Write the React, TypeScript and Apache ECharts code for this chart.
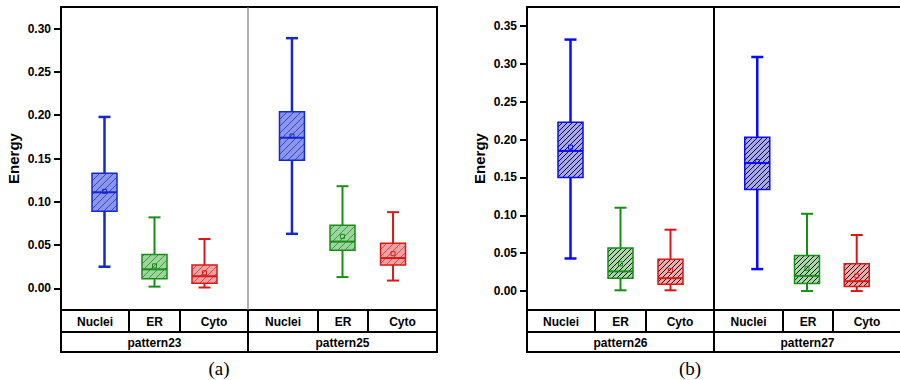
import React, { useEffect, useRef } from "react";
import * as echarts from "echarts";

// ---- data ----
const categories = ["Nuclei", "ER", "Cyto"];
const patternNamesA = ["pattern23", "pattern25"];
const patternNamesB = ["pattern26", "pattern27"];
const panelLabels = ["(a)", "(b)"];

// each row: [low, q1, median, q3, high]
const pattern23 = [
  [0.025, 0.089, 0.111, 0.133, 0.198],
  [0.002, 0.011, 0.022, 0.039, 0.082],
  [0.001, 0.006, 0.014, 0.027, 0.057],
];
const pattern23Mean = [0.112, 0.026, 0.018];
const pattern25 = [
  [0.063, 0.148, 0.174, 0.204, 0.289],
  [0.013, 0.044, 0.054, 0.073, 0.118],
  [0.009, 0.027, 0.035, 0.052, 0.088],
];
const pattern25Mean = [0.176, 0.06, 0.04];
const pattern26 = [
  [0.043, 0.150, 0.185, 0.223, 0.332],
  [0.001, 0.017, 0.026, 0.057, 0.110],
  [0.001, 0.009, 0.017, 0.042, 0.081],
];
const pattern26Mean = [0.19, 0.036, 0.027];
const pattern27 = [
  [0.029, 0.134, 0.169, 0.203, 0.309],
  [0.0, 0.010, 0.020, 0.047, 0.102],
  [0.0, 0.006, 0.013, 0.036, 0.074],
];
const pattern27Mean = [0.171, 0.03, 0.02];

const ticksA = [0, 0.05, 0.1, 0.15, 0.2, 0.25, 0.3];
const ticksB = [0, 0.05, 0.1, 0.15, 0.2, 0.25, 0.3, 0.35];

const lineColorsA = ["#1428cc", "#1a8c1a", "#d81818"];
const fillColorsA = ["#8c96ea", "#9ed49e", "#f0a2a2"];
const hatchColorsA = ["#3446d4", "#3c9c3c", "#dc4a4a"];
const lineColorsB = ["#0a0aff", "#139013", "#dd1515"];
const fillColorsB = ["#a6a6f4", "#a8d8a8", "#f0aaaa"];

const FONT = "'Liberation Sans', Arial, sans-serif";

function buildRows(stats: number[][], means: number[]) {
  return stats.map((s, i) => [i + 1, s[0], s[1], s[2], s[3], s[4], means[i], i]);
}

function makeRender(lineColors: string[], fillColors: string[], hatchColors: string[] | null, spacing: number) {
  return (params: any, api: any) => {
    const x = api.value(0);
    const idx = api.value(7);
    const pLow = api.coord([x, api.value(1)]);
    const pQ1 = api.coord([x, api.value(2)]);
    const pMed = api.coord([x, api.value(3)]);
    const pQ3 = api.coord([x, api.value(4)]);
    const pHigh = api.coord([x, api.value(5)]);
    const pMean = api.coord([x, api.value(6)]);
    const cx = pMed[0];
    const half = 12.5;
    const cap = 6;
    const lc = lineColors[idx];
    const wl = idx === 0 ? 2.5 : 2;
    const x0 = cx - half;
    const x1 = cx + half;
    const y0 = pQ3[1];
    const y1 = pQ1[1];
    const children: any[] = [];
    // whiskers
    children.push({ type: "line", shape: { x1: cx, y1: pHigh[1], x2: cx, y2: y0 }, style: { stroke: lc, lineWidth: wl } });
    children.push({ type: "line", shape: { x1: cx, y1: y1, x2: cx, y2: pLow[1] }, style: { stroke: lc, lineWidth: wl } });
    children.push({ type: "line", shape: { x1: cx - cap, y1: pHigh[1], x2: cx + cap, y2: pHigh[1] }, style: { stroke: lc, lineWidth: wl } });
    children.push({ type: "line", shape: { x1: cx - cap, y1: pLow[1], x2: cx + cap, y2: pLow[1] }, style: { stroke: lc, lineWidth: wl } });
    // box fill
    children.push({ type: "rect", shape: { x: x0, y: y0, width: x1 - x0, height: y1 - y0 }, style: { fill: fillColors[idx], stroke: "none" } });
    // hatch lines "/" : x + y = c
    const hc = hatchColors ? hatchColors[idx] : "#111111";
    const cStart = Math.ceil((x0 + y0) / spacing) * spacing;
    for (let c = cStart; c <= x1 + y1; c += spacing) {
      const xa = Math.max(x0, c - y1);
      const xb = Math.min(x1, c - y0);
      if (xb - xa < 0.5) continue;
      children.push({
        type: "line",
        shape: { x1: xa, y1: c - xa, x2: xb, y2: c - xb },
        style: { stroke: hc, lineWidth: 1 },
      });
    }
    // box border
    children.push({ type: "rect", shape: { x: x0, y: y0, width: x1 - x0, height: y1 - y0 }, style: { fill: "none", stroke: lc, lineWidth: 1.5 } });
    // median
    children.push({ type: "line", shape: { x1: x0, y1: pMed[1], x2: x1, y2: pMed[1] }, style: { stroke: lc, lineWidth: 2 } });
    // mean marker
    children.push({ type: "rect", shape: { x: cx - 2, y: pMean[1] - 2, width: 4, height: 4 }, style: { fill: "none", stroke: lc, lineWidth: 1 } });
    return { type: "group", children };
  };
}

export default function App() {
  const ref = useRef<HTMLDivElement>(null);
  useEffect(() => {
    document.body.style.margin = "0";
    if (!ref.current) return;
    const chart = echarts.init(ref.current, undefined, { renderer: "svg" });

    const grids = [
      { left: 61, top: 7, width: 187, height: 303 },
      { left: 248, top: 7, width: 189, height: 303 },
      { left: 527, top: 7, width: 187, height: 303 },
      { left: 714, top: 7, width: 187, height: 303 },
    ];
    const xAxes = grids.map((_, i) => ({
      type: "value",
      gridIndex: i,
      min: 0.13,
      max: 3.87,
      show: false,
    }));
    const yBase = (i: number, ticks: number[], min: number, max: number, showLab: boolean) => ({
      type: "value",
      gridIndex: i,
      min,
      max,
      interval: 0.025,
      name: showLab ? "Energy" : "",
      nameLocation: "middle",
      nameGap: 40,
      nameTextStyle: { fontFamily: FONT, fontWeight: "bold", fontSize: 15, color: "#000" },
      axisLine: { show: false },
      splitLine: { show: false },
      axisTick: {
        show: showLab,
        length: 7,
        inside: false,
        customValues: ticks,
        lineStyle: { color: "#000", width: 2 },
      },
      axisLabel: {
        show: showLab,
        customValues: ticks,
        margin: 10,
        fontFamily: FONT,
        fontWeight: "bold",
        fontSize: 12,
        color: "#000",
        formatter: (v: number) => v.toFixed(2),
      },
    });
    const yAxes = [
      yBase(0, ticksA, -0.025, 0.325, true),
      yBase(1, ticksA, -0.025, 0.325, false),
      yBase(2, ticksB, -0.025, 0.375, true),
      yBase(3, ticksB, -0.025, 0.375, false),
    ];

    const renderA = makeRender(lineColorsA, fillColorsA, hatchColorsA, 7);
    const renderB = makeRender(lineColorsB, fillColorsB, null, 5);
    const dataSets = [
      buildRows(pattern23, pattern23Mean),
      buildRows(pattern25, pattern25Mean),
      buildRows(pattern26, pattern26Mean),
      buildRows(pattern27, pattern27Mean),
    ];
    const series = dataSets.map((d, i) => ({
      type: "custom",
      xAxisIndex: i,
      yAxisIndex: i,
      renderItem: i < 2 ? renderA : renderB,
      data: d,
      encode: { x: 0, y: [1, 5] },
      clip: false,
    }));

    const txt = (x: number, y: number, t: string, size = 12, serif = false) => ({
      type: "text",
      x,
      y,
      style: {
        text: t,
        fill: "#000",
        font: serif ? `${size}px 'Liberation Serif', 'Times New Roman', serif` : `bold ${size}px ${FONT}`,
        textAlign: "center",
        textVerticalAlign: "middle",
      },
      z: 20,
    });
    const ln = (x1: number, y1: number, x2: number, y2: number, color = "#000", w = 2) => ({
      type: "line",
      shape: { x1, y1, x2, y2 },
      style: { stroke: color, lineWidth: w },
      z: 20,
    });

    const panel = (
      left: number, mid: number, right: number,
      seps: number[], pats: string[], label: string, labelX: number, midColor: string, midW: number
    ) => {
      const els: any[] = [];
      els.push({ type: "rect", shape: { x: left, y: 7, width: right - left, height: 345 }, style: { fill: "none", stroke: "#000", lineWidth: 2 }, z: 20 });
      els.push(ln(left, 310, right, 310));
      els.push(ln(left, 332, right, 332));
      els.push(ln(mid, 7, mid, 310, midColor, midW));
      els.push(ln(mid, 310, mid, 352));
      seps.forEach((s) => els.push(ln(s, 310, s, 332)));
      const bounds = [left, seps[0], seps[1], mid, seps[2], seps[3], right];
      for (let k = 0; k < 6; k++) {
        els.push(txt((bounds[k] + bounds[k + 1]) / 2, 321.5, categories[k % 3], 12));
      }
      els.push(txt((left + mid) / 2, 342.5, pats[0], 12));
      els.push(txt((mid + right) / 2, 342.5, pats[1], 12));
      els.push(txt(labelX, 368, label, 19, true));
      return els;
    };

    const graphic = [
      ...panel(61, 248, 437, [129, 180, 318, 368], patternNamesA, panelLabels[0], 219, "#777", 1.2),
      ...panel(527, 714, 901, [595, 646, 783, 833], patternNamesB, panelLabels[1], 690, "#000", 2),
    ];

    chart.setOption({
      animation: false,
      backgroundColor: "#fff",
      grid: grids,
      xAxis: xAxes,
      yAxis: yAxes,
      series,
      graphic,
    } as any);
    return () => chart.dispose();
  }, []);
  return <div ref={ref} style={{ width: 900, height: 380 }} />;
}
